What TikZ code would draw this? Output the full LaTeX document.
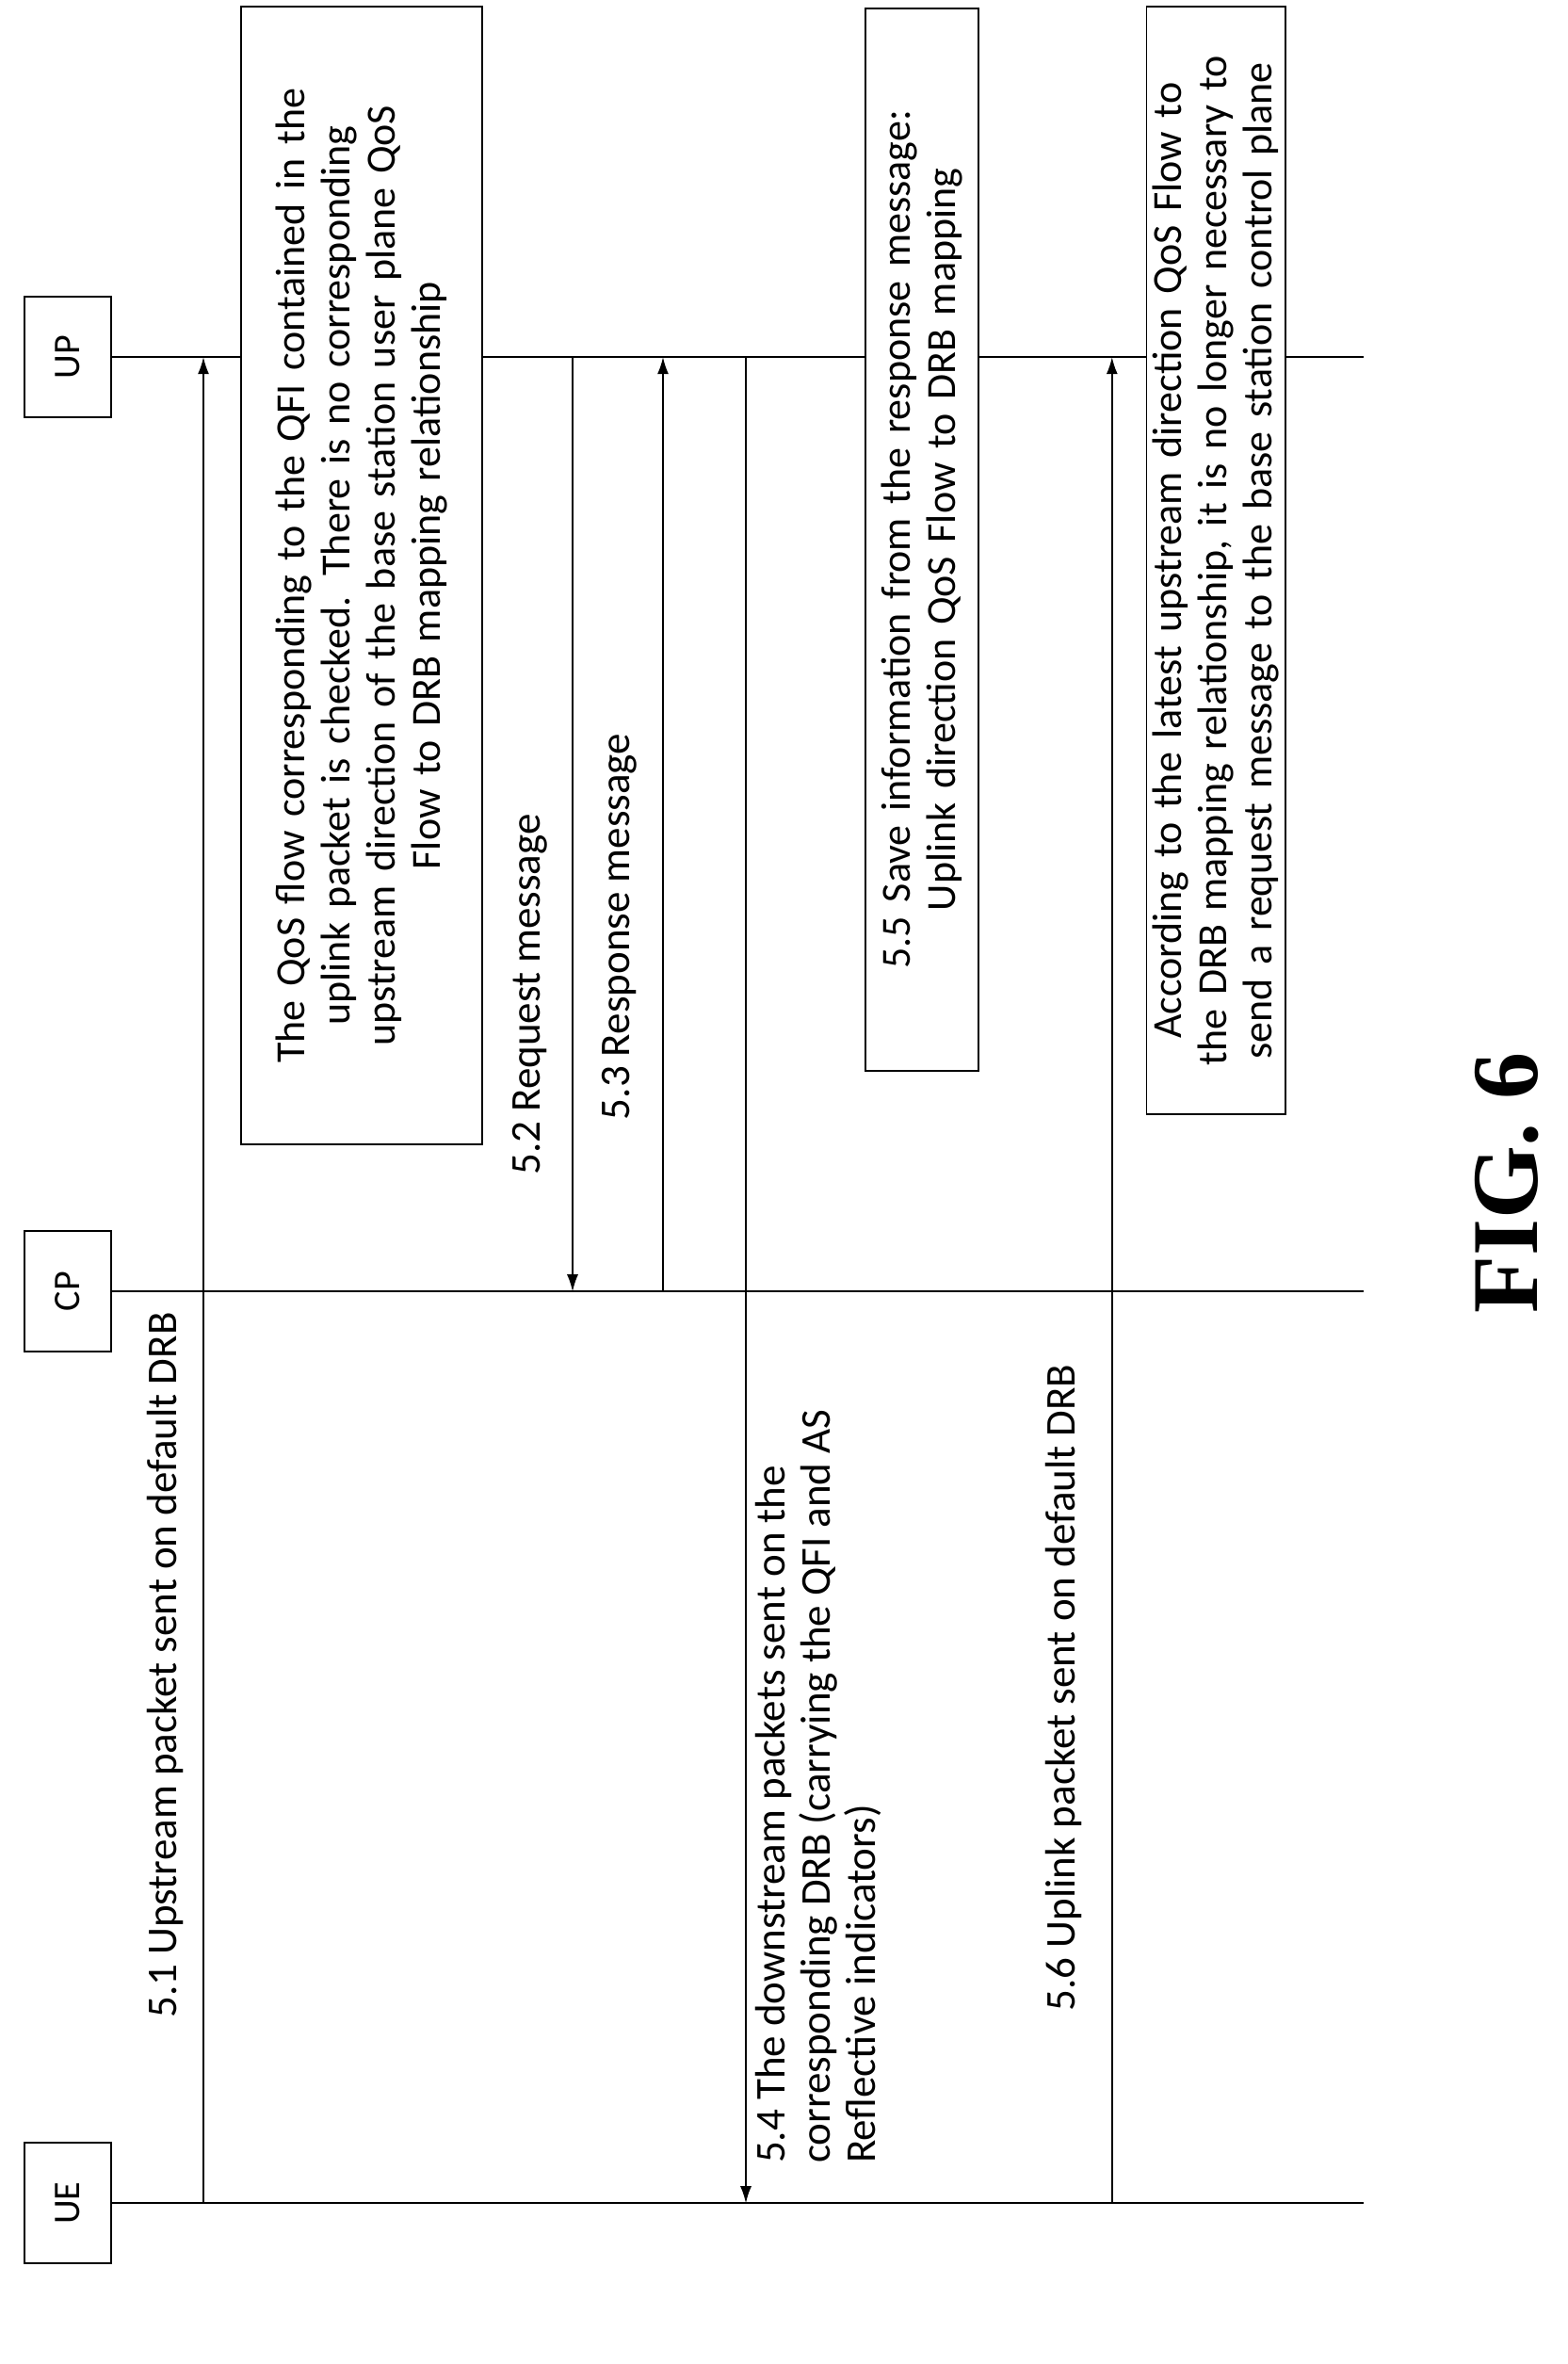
\documentclass[tikz,border=0pt]{standalone}
\usepackage{fontspec}
\setmainfont{Carlito}
\newfontfamily\figfont{Liberation Serif}
\usetikzlibrary{arrows.meta}
\tikzset{
	actor/.style={draw, thick, rotate=90, minimum width=64pt, minimum height=46pt, font=\fontsize{20}{24}\selectfont},
	note/.style={draw, thick, fill=white, rotate=90, align=center, font=\fontsize{22}{24}\selectfont},
	msg/.style={thick, -{Latex[length=9pt,width=6pt]}},
	lbl/.style={rotate=90, font=\fontsize{22.5}{24}\selectfont}
}
\begin{document}
\begin{tikzpicture}[x=0.8pt, y=-0.8pt]
	\useasboundingbox (0,0) rectangle (1040.6,1568.75);

		\node (ue)[actor] at (45,1462) {UE};
		\node (cp)[actor] at (45,857) {CP};
		\node (up)[actor] at (45,237) {UP};

		\coordinate (ueend) at (905,1462);
		\coordinate (cpend) at (905,857);
		\coordinate (upend) at (905,237);

		\draw [thick](ue.south) to (ueend);
		\draw [thick](cp.south) to (cpend);
		\draw [thick](up.south) to (upend);

		% message points on the lifelines
		\coordinate (a1) at (135,1462);
		\coordinate (b1) at (135,237);
		\coordinate (a2) at (380,237);
		\coordinate (b2) at (380,857);
		\coordinate (a3) at (440,857);
		\coordinate (b3) at (440,237);
		\coordinate (a4) at (495,237);
		\coordinate (b4) at (495,1462);
		\coordinate (a6) at (738,1462);
		\coordinate (b6) at (738,237);

		\draw [msg](a1) to (b1);
		\node (l1)[lbl] at (110,1105) {5.1 Upstream packet sent on default DRB};

		\node (n1)[note, minimum width=604pt, minimum height=128pt, text width=595pt] at (240,382)
			{The QoS flow corresponding to the QFI contained in the\\
			uplink packet is checked. There is no corresponding\\
			upstream direction of the base station user plane QoS\\
			Flow to DRB mapping relationship};

		\draw [msg](a2) to (b2);
		\node (l2)[lbl] at (352,660) {5.2 Request message};
		\draw [msg](a3) to (b3);
		\node (l3)[lbl] at (411,615) {5.3 Response message};

		\draw [msg](a4) to (b4);
		\node (l4)[lbl, align=left, anchor=north west] at (497,1440)
			{5.4 The downstream packets sent on the\\
			corresponding DRB (carrying the QFI and AS\\
			Reflective indicators)};

		\node (n5)[note, minimum width=564pt, minimum height=60pt, text width=555pt] at (612,358)
			{5.5 Save information from the response message:\\
			Uplink direction QoS Flow to DRB mapping};

		\draw [msg](a6) to (b6);
		\node (l6)[lbl] at (706,1120) {5.6 Uplink packet sent on default DRB};

		\node (n7)[note, minimum width=588pt, minimum height=68pt, text width=580pt] at (807,372)
			{According to the latest upstream direction QoS Flow to\\
			the DRB mapping relationship, it is no longer necessary to\\
			send a request message to the base station control plane};

		\node (fig)[rotate=90, font=\figfont\bfseries\fontsize{50}{56}\selectfont] at (1000,785) {FIG. 6};
	\end{tikzpicture}
\end{document}
